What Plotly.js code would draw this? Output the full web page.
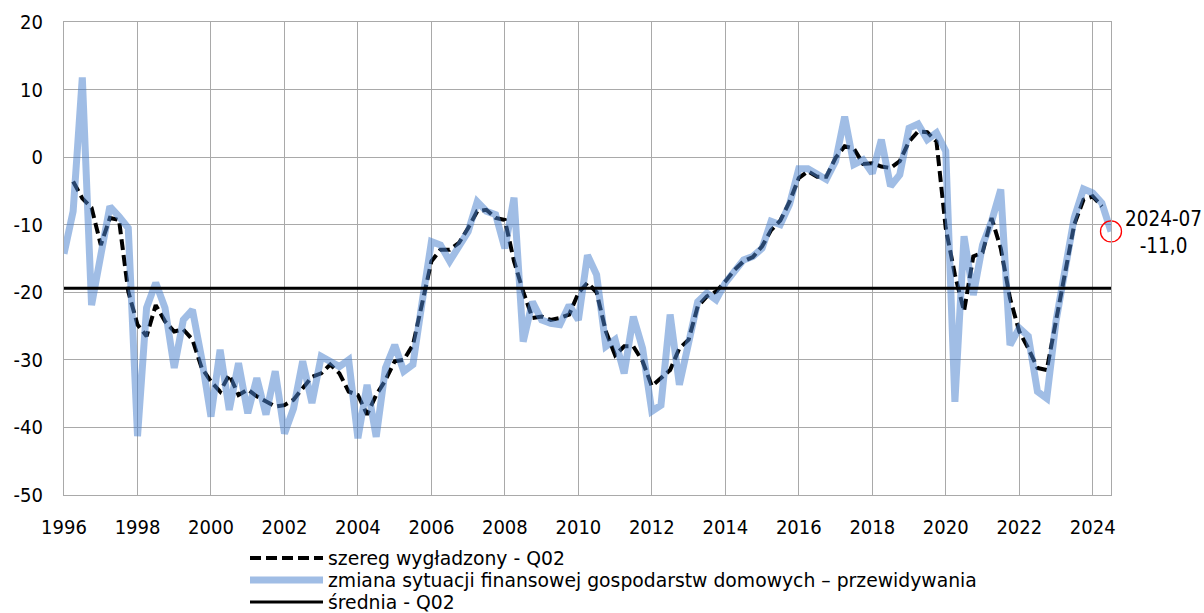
<!DOCTYPE html>
<html>
<head>
<meta charset="utf-8">
<script src="https://cdn.plot.ly/plotly-3.0.1.min.js"></script>
<style>html,body{margin:0;padding:0;background:#fff;}#chart{width:1204px;height:613px;}</style>
</head>
<body>
<div id="chart"></div>
<script>
// Quarterly observations: first quarter Jan 1996, last Jul 2024
const startYear = 1996;
const nQuarters = 115;

// zmiana sytuacji finansowej gospodarstw domowych – przewidywania (from 1996-01)
const financeForecast = [
  -14.3, -8.0, 11.8, -21.9,
  -14.5, -7.3, -8.8, -10.5,
  -41.3, -22.3, -18.6, -22.3,
  -31.2, -24.1, -22.6, -29.8,
  -38.4, -28.5, -37.4, -30.5,
  -37.9, -32.7, -38.1, -31.7,
  -40.9, -37.2, -30.2, -36.4,
  -29.5, -30.2, -31.0, -30.0,
  -41.6, -33.7, -41.4, -31.2,
  -27.8, -31.7, -30.7, -21.4,
  -12.5, -13.0, -15.4, -13.2,
  -11.0, -6.6, -8.0, -8.5,
  -13.5, -6.0, -27.3, -21.4,
  -24.1, -24.6, -24.8, -21.9,
  -24.1, -14.5, -17.4, -28.0,
  -27.0, -32.0, -23.6, -28.3,
  -37.6, -36.7, -23.3, -33.7,
  -27.0, -21.4, -20.1, -21.1,
  -18.6, -16.7, -15.2, -14.7,
  -13.5, -9.5, -10.0, -7.0,
  -1.7, -1.7, -2.6, -3.3,
  -0.6, 6.0, -1.1, -0.4,
  -2.4, 2.6, -4.3, -2.6,
  4.3, 4.9, 2.6, 3.6,
  0.9, -36.2, -11.7, -20.4,
  -13.0, -9.5, -4.8, -27.8,
  -25.3, -26.5, -34.7, -35.7,
  -24.3, -16.4, -9.0, -4.7,
  -5.3, -6.8, -11.0
];

// szereg wygładzony - Q02 (from 1996-04 to 2024-04)
const smoothed = [
  null, -3.6, -6.1, -7.5,
  -13.0, -9.0, -9.3, -19.9,
  -24.8, -26.5, -21.9, -24.3,
  -25.8, -25.5, -27.0, -31.2,
  -33.2, -34.7, -32.2, -35.2,
  -34.4, -35.4, -36.2, -36.9,
  -36.7, -35.9, -34.2, -32.5,
  -32.0, -30.7, -32.0, -34.7,
  -35.2, -38.1, -35.2, -33.0,
  -30.2, -30.0, -27.8, -21.9,
  -15.4, -13.7, -13.7, -12.7,
  -10.5, -8.0, -7.8, -9.0,
  -9.3, -15.4, -19.9, -23.8,
  -23.6, -24.1, -23.8, -23.3,
  -20.1, -18.6, -20.0, -25.8,
  -29.3, -28.0, -28.0, -30.2,
  -33.9, -32.7, -31.5, -28.3,
  -27.0, -22.1, -20.6, -19.9,
  -18.4, -16.7, -15.4, -14.8,
  -13.2, -10.8, -9.4, -6.6,
  -3.1, -2.1, -2.9, -2.9,
  -0.1, 1.6, 1.3, -1.0,
  -0.9, -1.4, -1.6, -0.6,
  2.3, 3.8, 3.7, 2.3,
  -10.5, -17.4, -22.8, -14.7,
  -14.1, -9.0, -13.5, -20.9,
  -25.8, -28.3, -31.2, -31.5,
  -24.1, -17.4, -10.0, -6.3,
  -5.8, -7.3, null
];

// średnia - Q02
const meanValue = -19.4;

const legendNames = [
  'szereg wygładzony - Q02',
  'zmiana sytuacji finansowej gospodarstw domowych – przewidywania',
  'średnia - Q02'
];
const tickYears = ['1996','1998','2000','2002','2004','2006','2008','2010','2012','2014','2016','2018','2020','2022','2024'];
const yTickVals = [-50, -40, -30, -20, -10, 0, 10, 20];
const yTickText = ['-50', '-40', '-30', '-20', '-10', '0', '10', '20'];

// quarterly dates
const dates = [];
for (let i = 0; i < nQuarters; i++) {
  const y = startYear + Math.floor(i / 4);
  const m = (i % 4) * 3 + 1;
  dates.push(y + '-' + String(m).padStart(2, '0') + '-01');
}
const lastDate = dates[dates.length - 1];
const lastValue = financeForecast[financeForecast.length - 1];
const meanLine = dates.map(() => meanValue);

const FONT = '"DejaVu Sans Condensed", "DejaVu Sans", sans-serif';
const LEGFONT = '"DejaVu Sans", sans-serif';
const BLUE = 'rgba(75,130,205,0.53)';
const GRID = '#a9a9a9';

const traces = [
  { x: dates, y: smoothed, type: 'scatter', mode: 'lines', name: legendNames[0],
    line: { color: '#000000', width: 4, dash: '11px,5px' }, connectgaps: false },
  { x: dates, y: financeForecast, type: 'scatter', mode: 'lines', name: legendNames[1],
    line: { color: BLUE, width: 7 } },
  { x: dates, y: meanLine, type: 'scatter', mode: 'lines', name: legendNames[2],
    line: { color: '#000000', width: 3 } },
  { x: [lastDate], y: [lastValue], type: 'scatter', mode: 'markers', showlegend: false,
    marker: { symbol: 'circle-open', size: 21, color: '#ff0000', line: { width: 1.3, color: '#ff0000' } },
    cliponaxis: false }
];

// plot geometry in px (for custom legend placement)
const W = 1204, H = 613, ML = 64, MR = 93, MT = 22, MB = 118;
const pw = W - ML - MR, ph = H - MT - MB;
const px2x = p => (p - ML) / pw;
const px2y = p => (H - MB - p) / ph;

const legRows = [558, 580, 602];
const symX0 = px2x(250), symX1 = px2x(323), txtX = px2x(326);
const shapes = [
  { type: 'line', xref: 'paper', yref: 'paper', x0: symX0, x1: symX1, y0: px2y(legRows[0]), y1: px2y(legRows[0]),
    line: { color: '#000', width: 4, dash: '11px,5px' } },
  { type: 'line', xref: 'paper', yref: 'paper', x0: symX0, x1: symX1, y0: px2y(legRows[1]), y1: px2y(legRows[1]),
    line: { color: BLUE, width: 7 } },
  { type: 'line', xref: 'paper', yref: 'paper', x0: symX0, x1: symX1, y0: px2y(legRows[2]), y1: px2y(legRows[2]),
    line: { color: '#000', width: 3 } }
];
const annotations = legendNames.map((t, i) => ({
  text: t, xref: 'paper', yref: 'paper', x: txtX, y: px2y(legRows[i]),
  xanchor: 'left', yanchor: 'middle', showarrow: false,
  font: { family: LEGFONT, size: 18.8, color: '#000' }
}));
const [ly, lm] = lastDate.split('-');
annotations.push({
  text: ly + '-' + lm + '<br>' + lastValue.toFixed(1).replace('.', ','),
  x: lastDate, y: lastValue, xref: 'x', yref: 'y', showarrow: false,
  xshift: 52, yshift: -1, xanchor: 'center', yanchor: 'middle', align: 'center',
  font: { family: FONT, size: 20.5, color: '#000' }
});

const layout = {
  width: W, height: H,
  margin: { l: ML, r: MR, t: MT, b: MB, pad: 0 },
  paper_bgcolor: '#fff', plot_bgcolor: '#fff',
  showlegend: false,
  font: { family: FONT, size: 20, color: '#000' },
  xaxis: {
    type: 'date', range: [dates[0], lastDate],
    tickvals: tickYears.map(y => y + '-01-01'), ticktext: tickYears,
    showgrid: true, gridcolor: GRID, gridwidth: 1,
    showline: true, linecolor: GRID, linewidth: 1, mirror: true,
    ticks: '', ticklabelstandoff: 14, zeroline: false,
    tickfont: { family: FONT, size: 20, color: '#000' }
  },
  yaxis: {
    range: [-50, 20], tickvals: yTickVals, ticktext: yTickText,
    showgrid: true, gridcolor: GRID, gridwidth: 1,
    showline: true, linecolor: GRID, linewidth: 1, mirror: true,
    ticks: '', ticklabelstandoff: 16, zeroline: false,
    tickfont: { family: FONT, size: 20, color: '#000' }
  },
  shapes: shapes,
  annotations: annotations
};

Plotly.newPlot('chart', traces, layout, { displayModeBar: false, staticPlot: true });
</script>
</body>
</html>
